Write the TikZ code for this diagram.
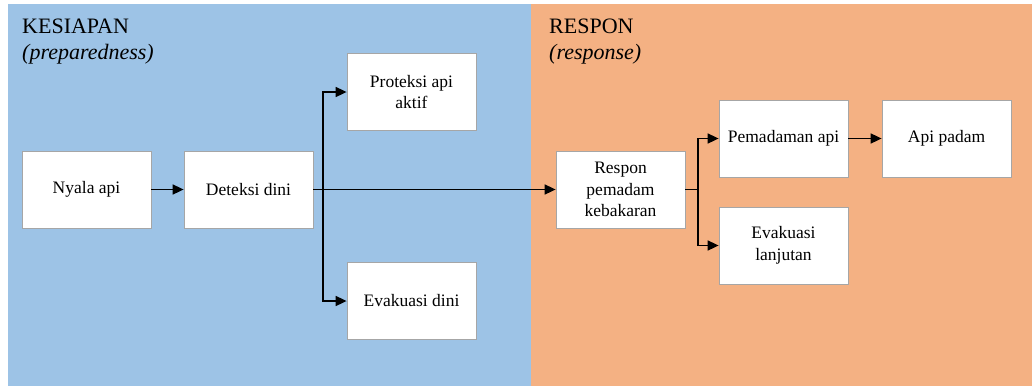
\documentclass[tikz,border=0pt]{standalone}
\usepackage{fontspec}
\setmainfont{Liberation Serif}
\usepackage{tikz}
\usetikzlibrary{arrows.meta,positioning,calc}

\definecolor{prepblue}{HTML}{9DC3E6}
\definecolor{resporange}{HTML}{F4B183}
\definecolor{boxgray}{HTML}{A6A6A6}

\begin{document}
\begin{tikzpicture}[x=1pt,y=-1pt,
  stage/.style={draw=boxgray, fill=white, line width=0.8pt,
                minimum width=129pt, minimum height=77pt, inner sep=2pt,
                align=center, font=\fontsize{17.5}{21.7}\selectfont},
  phase/.style={anchor=base west, inner sep=0pt, font=\fontsize{22}{26}\selectfont},
  arr/.style={-{Triangle[length=11pt,width=10pt]}, line width=1.7pt},
  link/.style={line width=1.7pt}
]
\useasboundingbox (0,0) rectangle (1032,386);
\fill[prepblue]   (8,4) rectangle (531,386);
\fill[resporange] (531,4) rectangle (1032,386);

% phase titles
\node[phase] (kesiapan) at (22,33) {KESIAPAN};
\node[phase] (prepen)   at (22,59) {\textit{(preparedness)}};
\node[phase] (respon)   at (549,33) {RESPON};
\node[phase] (respen)   at (549,59) {\textit{(response)}};

% stages
\node[stage] (nyala)     at (86.5,189.5)  {Nyala api};
\node[stage] (deteksi)   at (248.5,189.5) {Deteksi dini};
\node[stage] (proteksi)  at (411.5,92)    {Proteksi api\\aktif};
\node[stage] (evadini)   at (411.5,301)   {Evakuasi dini};
\node[stage] (pemadam)   at (620.5,189.5) {Respon\\pemadam\\kebakaran};
\node[stage] (padamkan)  at (783.5,138.5) {Pemadaman api};
\node[stage] (apipadam)  at (946.5,138.5) {Api padam};
\node[stage] (evalanjut) at (783.5,245.5) {Evakuasi\\lanjutan};

\coordinate (fork1) at (323,189.5);
\coordinate (fork2) at (698,189.5);

\draw[arr] (nyala) -- (deteksi);
\draw[arr] (deteksi) -- (pemadam);
\draw[arr] (fork1) |- (proteksi.west);
\draw[arr] (fork1) |- (evadini.west);
\draw[link] (pemadam.east) -- (fork2);
\draw[arr] (fork2) |- (padamkan.west);
\draw[arr] (fork2) |- (evalanjut.west);
\draw[arr] (padamkan) -- (apipadam);
\end{tikzpicture}
\end{document}
